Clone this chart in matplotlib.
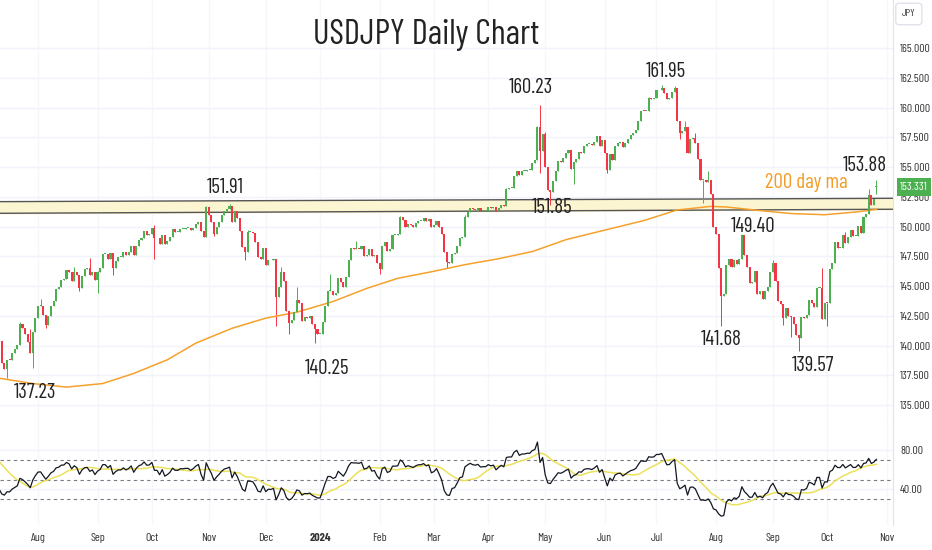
import numpy as np
import pandas as pd
import matplotlib
matplotlib.use("Agg")
import matplotlib.pyplot as plt
import matplotlib.transforms as mtransforms

# daily closes, one list per month (weekday bars)
jul_2023 = [140.35, 138.55, 138.05, 138.80, 138.75, 139.35, 139.70, 140.05, 141.80, 141.50,
            140.95, 140.30, 139.40, 141.15, 142.30]
aug_2023 = [143.30, 143.35, 142.55, 141.75, 142.45, 143.35, 143.75, 144.75, 144.95, 145.55,
            145.60, 146.35, 146.15, 145.40, 146.20, 145.90, 144.85, 145.85, 146.40, 146.50,
            145.90, 146.20, 145.50]
sep_2023 = [146.20, 146.55, 147.70, 147.70, 147.30, 147.80, 146.55, 147.10, 147.45, 147.45,
            147.85, 147.60, 147.85, 148.35, 147.60, 148.35, 148.85, 149.05, 149.65, 149.30,
            149.35]
oct_2023 = [149.85, 149.00, 149.00, 148.50, 149.30, 148.50, 148.75, 149.10, 149.80, 149.55,
            149.55, 149.80, 149.80, 149.85, 149.85, 149.70, 149.90, 150.20, 150.40, 149.65,
            149.10, 151.65]
nov_2023 = [151.00, 150.40, 149.40, 149.95, 150.40, 150.95, 151.35, 151.50, 151.70, 150.35,
            151.35, 150.70, 149.60, 148.30, 147.85, 149.55, 149.55, 149.45, 148.70, 147.45,
            147.25, 148.20]
dec_2023 = [146.80, 147.20, 147.15, 147.30, 144.10, 144.95, 146.20, 145.40, 142.90, 141.90,
            142.15, 142.80, 143.80, 143.55, 142.10, 142.40, 142.35, 142.45, 141.80, 141.40,
            141.00]
jan_2024 = [141.00, 142.00, 143.30, 144.60, 144.60, 144.25, 144.45, 145.70, 145.30, 144.90,
            145.75, 147.20, 148.20, 148.15, 148.15, 148.10, 148.35, 147.50, 147.65, 148.15,
            147.50, 147.60, 146.90]
feb_2024 = [146.45, 148.35, 148.70, 147.95, 148.15, 149.30, 149.30, 149.35, 150.80, 150.55,
            149.95, 150.20, 150.10, 150.00, 150.30, 150.50, 150.50, 150.70, 150.50, 150.65,
            149.95]
mar_2024 = [150.10, 150.50, 150.00, 149.35, 147.85, 147.05, 146.95, 147.70, 147.80, 148.35,
            149.05, 149.15, 150.85, 151.25, 151.60, 151.45, 151.40, 151.55, 151.30, 151.35,
            151.35]
apr_2024 = [151.65, 151.55, 151.65, 151.30, 151.60, 151.85, 151.75, 153.15, 153.25, 153.25,
            154.25, 154.70, 154.35, 154.65, 154.65, 154.80, 154.80, 155.35, 155.60, 158.35,
            156.35, 157.80]
may_2024 = [155.00, 153.10, 152.95, 153.85, 154.65, 155.55, 155.45, 155.75, 156.20, 156.45,
            154.85, 155.40, 155.65, 156.25, 156.20, 156.80, 156.95, 156.95, 156.85, 157.15,
            157.60, 156.80, 157.30]
jun_2024 = [156.15, 154.75, 156.10, 155.60, 156.75, 157.05, 157.15, 156.70, 157.05, 157.40,
            157.70, 157.85, 158.10, 158.90, 159.75, 159.70, 159.70, 160.80, 160.75, 160.85]
jul_2024 = [161.45, 161.45, 161.70, 161.25, 160.75, 160.80, 161.30, 161.65, 158.90, 157.85,
            158.05, 158.35, 156.20, 157.40, 157.45, 157.05, 155.65, 153.90, 153.90, 153.75,
            153.95, 152.75, 149.95]
aug_2024 = [149.35, 146.55, 144.20, 144.30, 146.75, 147.25, 146.60, 147.20, 146.85, 147.30,
            149.30, 147.60, 146.60, 145.25, 145.30, 146.25, 144.35, 144.55, 143.90, 144.60,
            144.95, 146.20]
sep_2024 = [146.95, 145.45, 143.75, 143.45, 142.30, 143.15, 142.50, 142.40, 141.85, 140.85,
            140.60, 142.40, 142.30, 142.60, 143.85, 143.60, 143.20, 144.80, 144.80, 142.20,
            143.60]
oct_2024 = [143.55, 146.45, 146.90, 148.70, 148.20, 148.20, 149.30, 148.60, 149.15, 149.75,
            149.20, 149.25, 150.05, 149.50, 150.85, 151.05, 152.70, 151.85, 152.30, 153.331]

closes = np.array(jul_2023 + aug_2023 + sep_2023 + oct_2023 + nov_2023 + dec_2023
                  + jan_2024 + feb_2024 + mar_2024 + apr_2024 + may_2024 + jun_2024
                  + jul_2024 + aug_2024 + sep_2024 + oct_2024)

first_open = 141.30
open_gaps = {"2024-10-28": 153.30}

# wicks that stick out of the bodies
highs_known = {
    "2023-07-21": 142.00, "2023-07-27": 141.35, "2023-08-02": 143.90, "2023-08-21": 146.60,
    "2023-08-29": 147.35, "2023-09-01": 146.30, "2023-10-03": 150.16, "2023-10-31": 151.70,
    "2023-11-13": 151.91, "2023-11-22": 149.75, "2023-12-11": 146.60, "2023-12-19": 144.95,
    "2024-01-05": 145.98, "2024-01-19": 148.80, "2024-02-13": 150.88, "2024-03-19": 151.00,
    "2024-04-10": 153.25, "2024-04-26": 158.45, "2024-04-29": 160.23, "2024-05-01": 157.99,
    "2024-06-26": 160.87, "2024-07-03": 161.95, "2024-07-10": 161.80, "2024-07-16": 158.85,
    "2024-07-22": 157.85, "2024-07-29": 154.70, "2024-08-15": 149.40, "2024-09-02": 147.20,
    "2024-09-27": 146.50, "2024-10-10": 149.55, "2024-10-23": 153.20, "2024-10-28": 153.88,
}
lows_known = {
    "2023-07-14": 137.23, "2023-07-28": 138.07, "2023-08-04": 141.50, "2023-08-23": 144.55,
    "2023-09-01": 144.45, "2023-09-11": 145.90, "2023-10-03": 147.30, "2023-11-03": 149.20,
    "2023-11-21": 147.15, "2023-12-07": 141.63, "2023-12-14": 140.95, "2023-12-28": 140.25,
    "2024-02-01": 146.00, "2024-03-08": 146.48, "2024-04-29": 154.54, "2024-05-03": 151.85,
    "2024-05-16": 153.60, "2024-06-04": 154.55, "2024-07-12": 157.40, "2024-07-25": 151.95,
    "2024-08-05": 141.68, "2024-09-06": 141.75, "2024-09-11": 140.71, "2024-09-16": 139.57,
    "2024-10-01": 141.65, "2024-10-28": 152.75,
}

# 200 day moving average, read at points along the orange line
ma_dates = ["2023-07-11", "2023-07-28", "2023-08-16", "2023-09-05", "2023-09-21", "2023-10-10",
            "2023-10-25", "2023-11-14", "2023-12-01", "2023-12-19", "2024-01-08", "2024-01-25",
            "2024-02-12", "2024-02-29", "2024-03-19", "2024-04-05", "2024-04-24", "2024-05-13",
            "2024-05-30", "2024-06-24", "2024-07-11", "2024-07-30", "2024-08-07", "2024-08-26",
            "2024-09-11", "2024-09-30", "2024-10-17", "2024-10-28"]
ma_values = [137.25, 136.80, 136.50, 136.80, 137.65, 138.80, 140.20, 141.45, 142.30, 142.80,
             143.70, 144.80, 145.65, 146.20, 146.80, 147.30, 147.90, 148.90, 149.60, 150.50,
             151.40, 151.70, 151.65, 151.35, 151.10, 151.00, 151.25, 151.45]

# RSI(14) state before the first bar, and the RSI values behind the 14 bar average
rsi_seed_gain = 0.45
rsi_seed_loss = 0.60
rsi_before_window = [75, 76, 78, 77, 75, 76, 73, 74, 72, 70, 66, 55, 48]

# support / resistance zone, left edge and right edge
zone_top = [152.10, 152.38]
zone_bottom = [151.12, 151.46]

# labelled swing points
label_dates = ["2023-07-14", "2023-11-13", "2023-12-28", "2024-04-29", "2024-05-03",
               "2024-07-03", "2024-08-15", "2024-08-05", "2024-09-16", "2024-10-28"]
label_kinds = ["low", "high", "low", "high", "low", "high", "high", "low", "low", "high"]
label_offsets = [(28, -14.5), (-4.5, 16), (12, -25.5), (-9.5, 17), (1.5, -2.5),
                 (4.5, 13.5), (11, 7), (0, -13.5), (14, -14.5), (-11.5, 14.5)]

# ---------------------------------------------------------------------------
dates = pd.bdate_range("2023-07-11", "2024-11-01")
pos = {d.strftime("%Y-%m-%d"): i for i, d in enumerate(dates)}
n = len(closes)
x = np.arange(n)

opens = np.r_[first_open, closes[:-1]]
for d, v in open_gaps.items():
    opens[pos[d]] = v
highs = np.maximum(opens, closes)
lows = np.minimum(opens, closes)
for d, v in highs_known.items():
    highs[pos[d]] = max(highs[pos[d]], v)
for d, v in lows_known.items():
    lows[pos[d]] = min(lows[pos[d]], v)

prev_close = np.r_[first_open, closes[:-1]]
g, l = rsi_seed_gain, rsi_seed_loss
rsi = []
for ch in closes - prev_close:
    g = (g * 13 + max(ch, 0)) / 14
    l = (l * 13 + max(-ch, 0)) / 14
    rsi.append(100 - 100 / (1 + g / l))
rsi = np.array(rsi)
rsi_ma = pd.Series(np.r_[rsi_before_window, rsi]).rolling(14).mean().values[len(rsi_before_window):]

GREEN = "#4caf50"
RED = "#f23645"
GRID = "#f0f3fa"
TXT = "#333333"
plt.rcParams["font.family"] = ["Barlow Condensed", "DejaVu Sans"]

W, H = 932, 550
fig = plt.figure(figsize=(W / 100, H / 100), dpi=100)
ax = fig.add_axes([0, 1 - 421 / H, 893 / W, 421 / H])
ax2 = fig.add_axes([0, 1 - 525 / H, 893 / W, 104 / H], sharex=ax)

# month ticks
month_pos, month_lab = [], []
seen = set()
for i, d in enumerate(dates):
    key = (d.year, d.month)
    if key in seen:
        continue
    seen.add(key)
    if i == 0:
        continue
    month_pos.append(i)
    month_lab.append(str(d.year) if d.month == 1 else d.strftime("%b"))

for a in (ax, ax2):
    a.set_xticks(month_pos)
    a.grid(True, axis="y", color=GRID, lw=1)
    a.grid(True, axis="x", color="#f6f7fb", lw=1)
    a.set_axisbelow(True)
    for s in ("top", "left"):
        a.spines[s].set_visible(False)
    a.spines["right"].set_color("#e0e3eb")
    a.yaxis.tick_right()
    a.tick_params(length=0, labelsize=8.5, colors=TXT, pad=5)

ax.spines["bottom"].set_color("#e0e3eb")
ax2.spines["bottom"].set_visible(False)
ax.tick_params(labelbottom=False)

# zone
ax.set_xlim(0.31, 345.4)
xl = ax.get_xlim()
ax.fill_between(xl, zone_bottom, zone_top, color="#fcf5d2", zorder=1)
ax.plot(xl, zone_top, color="#555555", lw=1, zorder=2)
ax.plot(xl, zone_bottom, color="#555555", lw=1, zorder=2)

# candles
up = closes >= opens
cols = np.where(up, GREEN, RED)
ax.vlines(x, lows, highs, colors=cols, lw=0.7, zorder=3)
body = np.maximum(np.abs(closes - opens), 0.08)
ax.bar(x, body, bottom=np.minimum(opens, closes), width=0.8, color=cols, lw=0, zorder=4)

# 200 day ma
ax.plot([pos[d] for d in ma_dates], ma_values, color="#f5a12b", lw=1.1, zorder=3)

ax.set_ylim(133.65, 169.06)
ax.set_yticks(np.arange(135, 165.1, 2.5))
ax.set_yticklabels([f"{v:.3f}" for v in np.arange(135, 165.1, 2.5)])

for d, k, (dx, dy) in zip(label_dates, label_kinds, label_offsets):
    i = pos[d]
    yv = lows[i] if k == "low" else highs[i]
    ax.annotate(f"{yv:.2f}", (i, yv), xytext=(dx, dy), textcoords="offset pixels",
                ha="center", va="center", fontsize=15, color="#222222", zorder=6)

ax.text(806 / 893, 1 - 183 / 421, "200 day ma", transform=ax.transAxes, ha="center",
        va="center", fontsize=15, color="#f39c27", zorder=6)

# last price tag
tr = mtransforms.blended_transform_factory(ax.transAxes, ax.transData)
ax.text(1.008, closes[-1], f"{closes[-1]:.3f}", transform=tr, ha="left", va="center",
        fontsize=8.5, color="white", zorder=7, clip_on=False,
        bbox=dict(boxstyle="square,pad=0.3", fc=GREEN, ec="none"))

fig.text(426 / W, 1 - 35 / H, "USDJPY Daily Chart", ha="center", va="center",
         fontsize=25, color="#222222")
fig.text(902 / W, 1 - 14 / H, "JPY", ha="left", va="center", fontsize=7.5, color=TXT,
         bbox=dict(boxstyle="round,pad=0.6,rounding_size=0.3", fc="white", ec="#e0e3eb"))

# RSI pane
ax2.plot(x, rsi_ma, color="#ebe15a", lw=1.1, zorder=3)
ax2.plot(x, rsi, color="#131722", lw=0.9, zorder=4)
for lvl in (70, 50, 30):
    ax2.axhline(lvl, color="#787b86", lw=0.8, ls=(0, (3, 3)), zorder=2)
ax2.set_ylim(3.7, 109.8)
ax2.set_yticks([40, 80])
ax2.set_yticklabels(["40.00", "80.00"])
ax2.set_xticklabels(month_lab)
for t in ax2.get_xticklabels():
    if t.get_text() == "2024":
        t.set_fontweight("bold")
ax2.tick_params(axis="x", pad=6)

fig.savefig("out.png", dpi=100)
